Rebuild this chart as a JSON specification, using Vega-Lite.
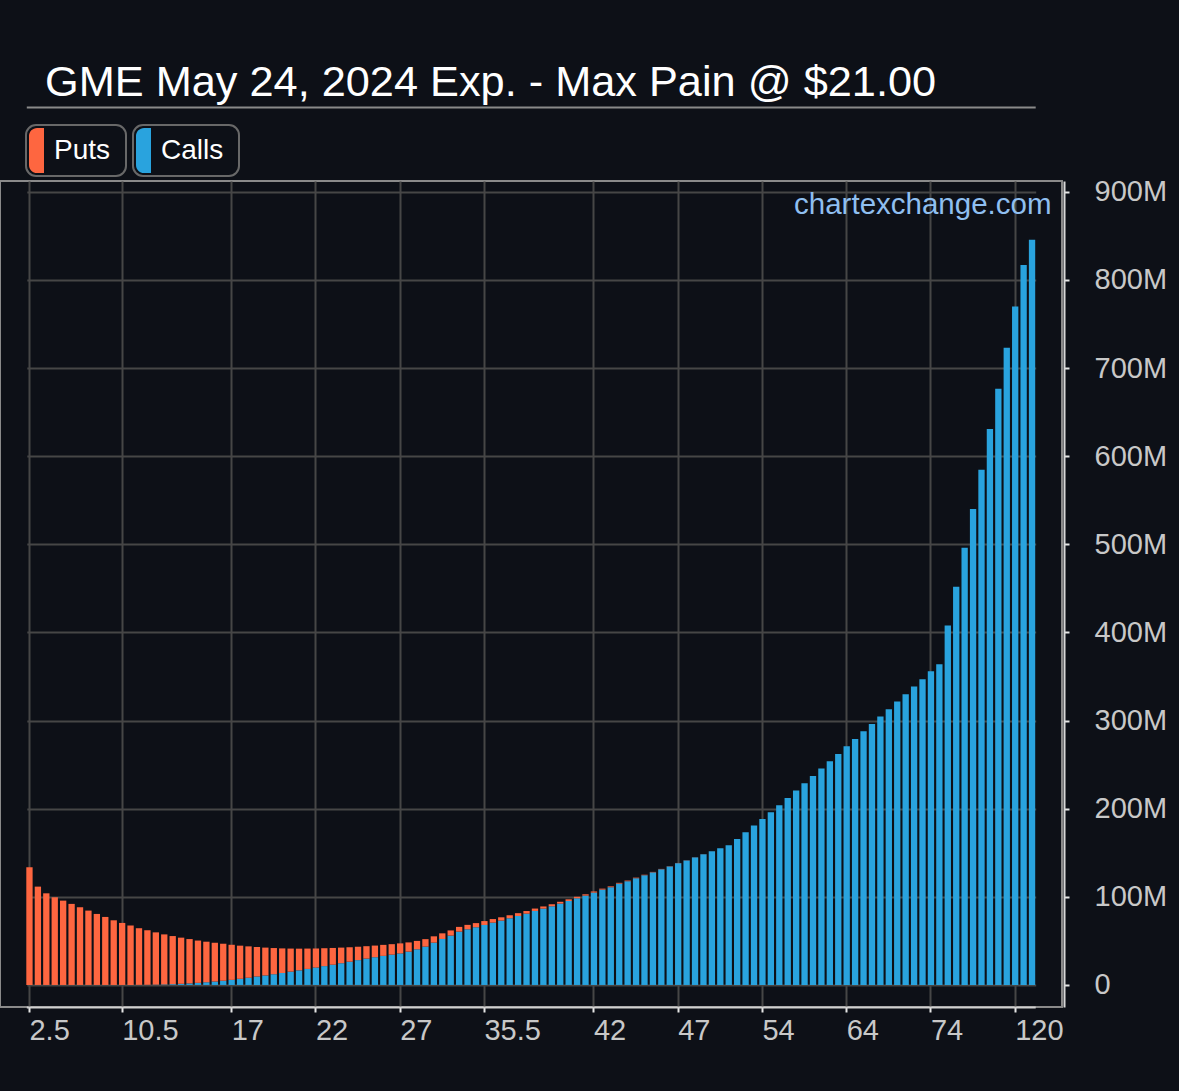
{
  "$schema": "https://vega.github.io/schema/vega-lite/v6.json",
  "width": 1062,
  "height": 826,
  "autosize": "none",
  "padding": {"left": 0, "top": 181, "right": 117, "bottom": 84},
  "background": "#0d1017",
  "title": {
    "text": "GME May 24, 2024 Exp. - Max Pain @ $21.00",
    "anchor": "start",
    "frame": "group",
    "dx": 45,
    "offset": 2,
    "fontSize": 43.3,
    "fontWeight": "normal",
    "color": "#ffffff",
    "font": "Liberation Sans"
  },
  "data": {
    "values": [
      {"strike": "2.5", "Calls": 0, "Puts": 133.6},
      {"strike": "3", "Calls": 0, "Puts": 111.6},
      {"strike": "3.5", "Calls": 0, "Puts": 104.0},
      {"strike": "4", "Calls": 0, "Puts": 99.5},
      {"strike": "4.5", "Calls": 0, "Puts": 95.7},
      {"strike": "5", "Calls": 0, "Puts": 92.0},
      {"strike": "6", "Calls": 0, "Puts": 88.2},
      {"strike": "7", "Calls": 0, "Puts": 84.4},
      {"strike": "8", "Calls": 0, "Puts": 80.6},
      {"strike": "9", "Calls": 0, "Puts": 77.2},
      {"strike": "10", "Calls": 0, "Puts": 73.4},
      {"strike": "10.5", "Calls": 0, "Puts": 70.4},
      {"strike": "11", "Calls": 0.05, "Puts": 67.3},
      {"strike": "11.5", "Calls": 0.1, "Puts": 64.3},
      {"strike": "12", "Calls": 0.2, "Puts": 61.9},
      {"strike": "12.5", "Calls": 0.4, "Puts": 59.3},
      {"strike": "13", "Calls": 0.6, "Puts": 56.8},
      {"strike": "13.5", "Calls": 0.9, "Puts": 54.6},
      {"strike": "14", "Calls": 1.3, "Puts": 52.4},
      {"strike": "14.5", "Calls": 1.8, "Puts": 50.3},
      {"strike": "15", "Calls": 2.4, "Puts": 48.0},
      {"strike": "15.5", "Calls": 3.1, "Puts": 46.0},
      {"strike": "16", "Calls": 3.9, "Puts": 44.0},
      {"strike": "16.5", "Calls": 4.8, "Puts": 42.0},
      {"strike": "17", "Calls": 5.8, "Puts": 39.8},
      {"strike": "17.5", "Calls": 7.0, "Puts": 37.6},
      {"strike": "18", "Calls": 8.2, "Puts": 35.6},
      {"strike": "18.5", "Calls": 9.5, "Puts": 33.6},
      {"strike": "19", "Calls": 10.8, "Puts": 31.6},
      {"strike": "19.5", "Calls": 12.2, "Puts": 29.7},
      {"strike": "20", "Calls": 13.6, "Puts": 27.9},
      {"strike": "20.5", "Calls": 15.1, "Puts": 26.2},
      {"strike": "21", "Calls": 16.6, "Puts": 24.6},
      {"strike": "21.5", "Calls": 18.2, "Puts": 23.1},
      {"strike": "22", "Calls": 19.8, "Puts": 21.6},
      {"strike": "22.5", "Calls": 21.4, "Puts": 20.3},
      {"strike": "23", "Calls": 23.0, "Puts": 19.0},
      {"strike": "23.5", "Calls": 24.7, "Puts": 17.7},
      {"strike": "24", "Calls": 26.4, "Puts": 16.4},
      {"strike": "24.5", "Calls": 28.2, "Puts": 15.2},
      {"strike": "25", "Calls": 29.9, "Puts": 14.1},
      {"strike": "25.5", "Calls": 31.5, "Puts": 13.2},
      {"strike": "26", "Calls": 33.0, "Puts": 12.5},
      {"strike": "26.5", "Calls": 34.4, "Puts": 11.9},
      {"strike": "27", "Calls": 35.8, "Puts": 11.4},
      {"strike": "28", "Calls": 37.8, "Puts": 10.5},
      {"strike": "29", "Calls": 40.5, "Puts": 9.5},
      {"strike": "30", "Calls": 43.5, "Puts": 8.5},
      {"strike": "31", "Calls": 48.0, "Puts": 7.2},
      {"strike": "32", "Calls": 52.2, "Puts": 6.4},
      {"strike": "33", "Calls": 56.0, "Puts": 5.9},
      {"strike": "34", "Calls": 60.5, "Puts": 5.4},
      {"strike": "34.5", "Calls": 63.2, "Puts": 5.0},
      {"strike": "35", "Calls": 65.5, "Puts": 4.7},
      {"strike": "35.5", "Calls": 68.1, "Puts": 4.4},
      {"strike": "36", "Calls": 70.7, "Puts": 4.1},
      {"strike": "36.5", "Calls": 73.0, "Puts": 3.8},
      {"strike": "37", "Calls": 75.7, "Puts": 3.5},
      {"strike": "37.5", "Calls": 78.3, "Puts": 3.2},
      {"strike": "38", "Calls": 80.9, "Puts": 3.0},
      {"strike": "38.5", "Calls": 84.0, "Puts": 2.7},
      {"strike": "39", "Calls": 86.6, "Puts": 2.5},
      {"strike": "39.5", "Calls": 89.3, "Puts": 2.3},
      {"strike": "40", "Calls": 92.3, "Puts": 2.1},
      {"strike": "40.5", "Calls": 95.3, "Puts": 1.9},
      {"strike": "41", "Calls": 98.4, "Puts": 1.7},
      {"strike": "41.5", "Calls": 101.4, "Puts": 1.5},
      {"strike": "42", "Calls": 104.8, "Puts": 1.3},
      {"strike": "42.5", "Calls": 108.2, "Puts": 1.1},
      {"strike": "43", "Calls": 110.9, "Puts": 1.0},
      {"strike": "43.5", "Calls": 115.0, "Puts": 0.9},
      {"strike": "44", "Calls": 117.7, "Puts": 0.8},
      {"strike": "44.5", "Calls": 121.1, "Puts": 0.7},
      {"strike": "45", "Calls": 124.5, "Puts": 0.6},
      {"strike": "45.5", "Calls": 127.8, "Puts": 0.5},
      {"strike": "46", "Calls": 131.3, "Puts": 0.4},
      {"strike": "46.5", "Calls": 134.5, "Puts": 0.3},
      {"strike": "47", "Calls": 138.2, "Puts": 0.25},
      {"strike": "47.5", "Calls": 141.3, "Puts": 0.2},
      {"strike": "48", "Calls": 144.8, "Puts": 0.15},
      {"strike": "48.5", "Calls": 148.2, "Puts": 0.1},
      {"strike": "49", "Calls": 151.6, "Puts": 0.05},
      {"strike": "49.5", "Calls": 155.0, "Puts": 0},
      {"strike": "50", "Calls": 158.5, "Puts": 0},
      {"strike": "51", "Calls": 165.7, "Puts": 0},
      {"strike": "52", "Calls": 173.3, "Puts": 0},
      {"strike": "53", "Calls": 180.9, "Puts": 0},
      {"strike": "54", "Calls": 188.4, "Puts": 0},
      {"strike": "55", "Calls": 196.0, "Puts": 0},
      {"strike": "56", "Calls": 204.0, "Puts": 0},
      {"strike": "57", "Calls": 212.3, "Puts": 0},
      {"strike": "58", "Calls": 220.6, "Puts": 0},
      {"strike": "59", "Calls": 229.0, "Puts": 0},
      {"strike": "60", "Calls": 237.0, "Puts": 0},
      {"strike": "61", "Calls": 245.6, "Puts": 0},
      {"strike": "62", "Calls": 254.0, "Puts": 0},
      {"strike": "63", "Calls": 262.0, "Puts": 0},
      {"strike": "64", "Calls": 271.0, "Puts": 0},
      {"strike": "65", "Calls": 279.0, "Puts": 0},
      {"strike": "66", "Calls": 288.0, "Puts": 0},
      {"strike": "67", "Calls": 296.0, "Puts": 0},
      {"strike": "68", "Calls": 304.6, "Puts": 0},
      {"strike": "69", "Calls": 313.0, "Puts": 0},
      {"strike": "70", "Calls": 321.6, "Puts": 0},
      {"strike": "71", "Calls": 330.0, "Puts": 0},
      {"strike": "72", "Calls": 338.6, "Puts": 0},
      {"strike": "73", "Calls": 347.0, "Puts": 0},
      {"strike": "74", "Calls": 356.0, "Puts": 0},
      {"strike": "75", "Calls": 364.0, "Puts": 0},
      {"strike": "80", "Calls": 408.0, "Puts": 0},
      {"strike": "85", "Calls": 452.0, "Puts": 0},
      {"strike": "90", "Calls": 496.0, "Puts": 0},
      {"strike": "95", "Calls": 540.0, "Puts": 0},
      {"strike": "100", "Calls": 584.6, "Puts": 0},
      {"strike": "105", "Calls": 631.0, "Puts": 0},
      {"strike": "110", "Calls": 676.5, "Puts": 0},
      {"strike": "115", "Calls": 723.0, "Puts": 0},
      {"strike": "120", "Calls": 770.0, "Puts": 0},
      {"strike": "125", "Calls": 817.0, "Puts": 0},
      {"strike": "130", "Calls": 845.6, "Puts": 0}
    ]
  },
  "transform": [
    {"fold": ["Calls", "Puts"], "as": ["type", "value"]},
    {
      "stack": "value",
      "groupby": ["strike"],
      "sort": [{"field": "type", "order": "ascending"}],
      "as": ["v0", "v1"]
    }
  ],
  "layer": [
    {
      "transform": [{"filter": "datum.type == 'Calls'"}],
      "mark": {"type": "bar"},
      "encoding": {
        "x": {
          "field": "strike",
          "type": "nominal",
          "sort": null,
          "scale": {"paddingInner": 0.25, "paddingOuter": 0, "range": [26.3, 1035.2]},
          "axis": {
            "orient": "bottom",
            "title": null,
            "values": ["2.5", "10.5", "17", "22", "27", "35.5", "42", "47", "54", "64", "74", "120"],
            "bandPosition": 0.5,
            "labelAngle": 0,
            "labelAlign": "left",
            "labelBaseline": "top",
            "labelDx": 4,
            "labelPadding": 4,
            "labelFontSize": 29,
            "labelColor": "#c8c8c8",
            "labelOverlap": false,
            "tickSize": 5,
            "tickWidth": 2,
            "tickColor": "#e6e6e6",
            "domainColor": "#d0d0d0",
            "domainWidth": 2,
            "grid": true,
            "gridColor": "#464646",
            "gridWidth": 2
          }
        },
        "y": {
          "field": "v0",
          "type": "quantitative",
          "scale": {"domain": [-25, 912.3], "nice": false, "zero": false},
          "axis": {
            "orient": "right",
            "offset": 2,
            "values": [0, 100, 200, 300, 400, 500, 600, 700, 800, 900],
            "labelExpr": "datum.value == 0 ? '0' : datum.value + 'M'",
            "labelFontSize": 29,
            "labelColor": "#c8c8c8",
            "labelPadding": 25,
            "labelFlush": false,
            "labelOverlap": false,
            "tickSize": 5,
            "tickWidth": 2,
            "tickColor": "#e6e6e6",
            "domainColor": "#d8d8d8",
            "domainWidth": 2,
            "grid": true,
            "gridColor": "#464646",
            "gridWidth": 2,
            "title": "chartexchange.com",
            "titleColor": "#8fbff0",
            "titleFontSize": 29.5,
            "titleFontWeight": "normal",
            "titleAngle": 0,
            "titleAlign": "right",
            "titleBaseline": "alphabetic",
            "titleX": -13,
            "titleY": 32
          }
        },
        "y2": {"field": "v1"},
        "color": {
          "field": "type",
          "type": "nominal",
          "scale": {"domain": ["Calls"], "range": ["#29a3de"]},
          "legend": {
            "title": null,
            "orient": "none",
            "legendX": 133,
            "legendY": -56,
            "symbolType": "M-0.333,-1H-0.64A0.36,0.36,0,0,0,-1,-0.64V0.64A0.36,0.36,0,0,0,-0.64,1H-0.333ZM3.43,-0.01L3.43,0.01",
            "symbolSize": 2025,
            "symbolStrokeWidth": 0,
            "symbolOpacity": 1,
            "labelOffset": -20,
            "labelFontSize": 28,
            "labelColor": "#ffffff",
            "padding": 3,
            "strokeColor": "#686868",
            "cornerRadius": 10
          }
        }
      }
    },
    {
      "transform": [{"filter": "datum.type == 'Puts'"}],
      "mark": {"type": "bar"},
      "encoding": {
        "x": {
          "field": "strike",
          "type": "nominal",
          "sort": null,
          "scale": {"paddingInner": 0.25, "paddingOuter": 0, "range": [26.3, 1035.2]},
          "axis": {
            "orient": "top",
            "offset": 74,
            "title": null,
            "labels": false,
            "ticks": false,
            "grid": false,
            "domainColor": "#8a8a8a",
            "domainWidth": 2
          }
        },
        "y": {
          "field": "v0",
          "type": "quantitative",
          "scale": {"domain": [-25, 912.3], "nice": false, "zero": false}
        },
        "y2": {"field": "v1"},
        "color": {
          "field": "type",
          "type": "nominal",
          "scale": {"domain": ["Puts"], "range": ["#fe6640"]},
          "legend": {
            "title": null,
            "orient": "none",
            "legendX": 26,
            "legendY": -56,
            "symbolType": "M-0.333,-1H-0.64A0.36,0.36,0,0,0,-1,-0.64V0.64A0.36,0.36,0,0,0,-0.64,1H-0.333ZM3.16,-0.01L3.16,0.01",
            "symbolSize": 2025,
            "symbolStrokeWidth": 0,
            "symbolOpacity": 1,
            "labelOffset": -20,
            "labelFontSize": 28,
            "labelColor": "#ffffff",
            "padding": 3,
            "strokeColor": "#686868",
            "cornerRadius": 10
          }
        }
      }
    }
  ],
  "resolve": {"scale": {"color": "independent"}, "axis": {"x": "independent"}},
  "config": {
    "font": "Liberation Sans",
    "view": {"stroke": "#8a8a8a", "strokeWidth": 2},
    "legend": {"strokeWidth": 2}
  }
}
